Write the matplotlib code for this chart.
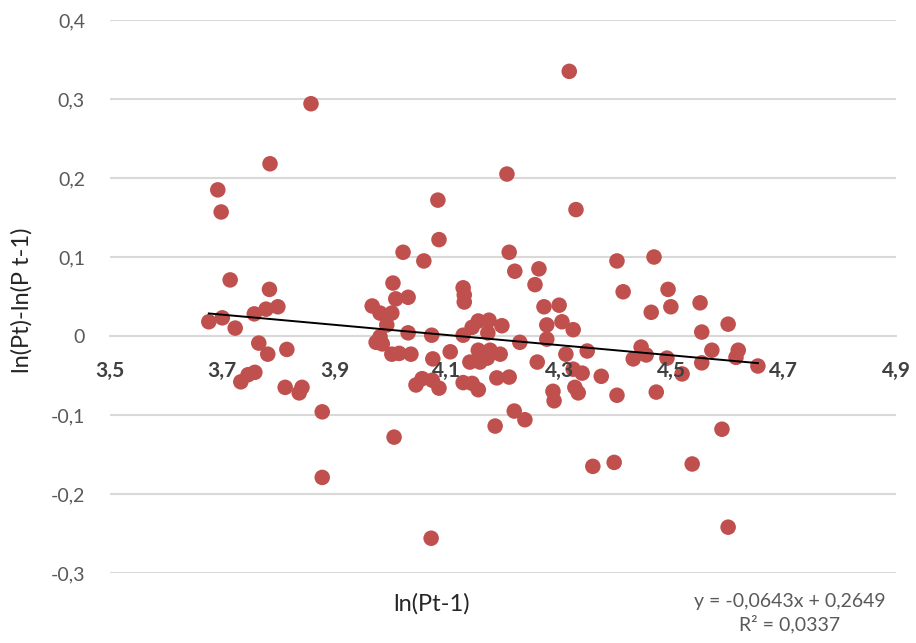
import matplotlib
matplotlib.use("Agg")
import matplotlib.pyplot as plt
import numpy as np
from matplotlib.ticker import FuncFormatter

plt.rcParams['font.family'] = ['Lato', 'DejaVu Sans']

x_vals = [3.676, 3.692, 3.698, 3.700, 3.714, 3.723, 3.733, 3.746, 3.758, 3.757,
          3.765, 3.781, 3.778, 3.784, 3.785, 3.799, 3.815, 3.812, 3.837, 3.842,
          3.858, 3.878, 3.878,
          3.967, 3.974, 3.981, 3.981, 3.985, 3.993, 4.002, 4.002, 4.004, 4.009,
          4.015, 4.006, 4.022, 4.031, 4.031, 4.036, 4.045, 4.056, 4.059, 4.073,
          4.074, 4.075, 4.072, 4.084, 4.086, 4.086, 4.106, 4.129, 4.131, 4.131,
          4.129, 4.129, 4.141, 4.145, 4.145, 4.156, 4.156, 4.156, 4.159, 4.172,
          4.173, 4.175, 4.177, 4.186, 4.189, 4.195, 4.198, 4.207, 4.211, 4.211,
          4.220, 4.221, 4.230, 4.239, 4.257, 4.261, 4.264, 4.273, 4.278, 4.278,
          4.289, 4.291, 4.300, 4.305, 4.312, 4.318, 4.325, 4.325, 4.328, 4.330,
          4.334, 4.341, 4.350, 4.360, 4.375, 4.398, 4.403, 4.403, 4.414, 4.432,
          4.446, 4.455, 4.464, 4.469, 4.473, 4.492, 4.494, 4.499, 4.519, 4.537,
          4.551, 4.554, 4.554, 4.572, 4.590, 4.601, 4.601, 4.615, 4.619, 4.654]
y_vals = [0.018, 0.185, 0.157, 0.023, 0.071, 0.010, -0.058, -0.049, -0.046, 0.028,
          -0.009, -0.023, 0.034, 0.059, 0.218, 0.037, -0.017, -0.065, -0.072, -0.065,
          0.294, -0.096, -0.179,
          0.038, -0.008, 0.029, -0.001, -0.010, 0.014, 0.029, -0.023, 0.067, 0.047,
          -0.022, -0.128, 0.106, 0.049, 0.004, -0.023, -0.062, -0.054, 0.095, 0.001,
          -0.056, -0.029, -0.256, 0.172, 0.122, -0.066, -0.020, 0.061, 0.052, 0.043,
          0.001, -0.059, -0.033, 0.011, -0.060, 0.019, -0.018, -0.068, -0.033, -0.028,
          0.004, 0.020, -0.018, -0.114, -0.053, -0.023, 0.013, 0.205, 0.106, -0.052,
          -0.095, 0.082, -0.008, -0.106, 0.065, -0.033, 0.085, 0.037, 0.014, -0.004,
          -0.070, -0.082, 0.039, 0.018, -0.023, 0.335, 0.008, -0.042, -0.065, 0.160,
          -0.072, -0.047, -0.019, -0.165, -0.051, -0.160, 0.095, -0.075, 0.056, -0.029,
          -0.014, -0.024, 0.030, 0.100, -0.071, -0.028, 0.059, 0.037, -0.048, -0.162,
          0.042, 0.005, -0.034, -0.018, -0.118, 0.015, -0.242, -0.027, -0.018, -0.038]

slope = -0.0643
intercept = 0.2649
r2 = 0.0337
x_ticks = [3.5, 3.7, 3.9, 4.1, 4.3, 4.5, 4.7, 4.9]
y_ticks = [-0.3, -0.2, -0.1, 0, 0.1, 0.2, 0.3, 0.4]
x_title = "ln(Pt-1)"
y_title = "ln(Pt)-ln(P t-1)"

fig = plt.figure(figsize=(9.16, 6.43), dpi=100)
ax = fig.add_axes([110/916, 1-573/643, (896-110)/916, (573-20)/643])

ax.scatter(x_vals, y_vals, s=125, color='#C0504D', edgecolors='none', zorder=3)

xl = np.array([min(x_vals), max(x_vals)])
ax.plot(xl, slope*xl + intercept, color='black', lw=1.4, zorder=4)

ax.set_xlim(3.5, 4.9)
ax.set_ylim(-0.3, 0.4)
ax.set_xticks(x_ticks)
ax.set_yticks(y_ticks)
fmt = FuncFormatter(lambda v, p: ('%g' % round(v, 2)).replace('.', ','))
ax.xaxis.set_major_formatter(fmt)
ax.yaxis.set_major_formatter(fmt)

ax.yaxis.grid(True, color='#D9D9D9', lw=1.5, zorder=0)
ax.set_axisbelow(True)
for s in ['top', 'right', 'left']:
    ax.spines[s].set_visible(False)
ax.spines['bottom'].set_position(('data', 0))
ax.spines['bottom'].set_color('#D9D9D9')
ax.spines['bottom'].set_linewidth(1.5)
ax.spines['bottom'].set_zorder(0.5)
ax.tick_params(axis='x', length=0, pad=18, labelsize=15, labelcolor='#404040')
ax.tick_params(axis='y', length=0, pad=18, labelsize=14, labelcolor='#595959')
for t in ax.get_xticklabels():
    t.set_fontweight('bold')
ax.xaxis.set_zorder(5)

fig.text(22/916, 1-300/643, y_title, rotation=90, ha='center', va='center',
         fontsize=17, color='#262626')
fig.text(432/916, 1-604/643, x_title, ha='center', va='center',
         fontsize=17, color='#262626')
eq = ("y = %.4fx + %.4f\nR² = %.4f" % (slope, intercept, r2)).replace('.', ',')
fig.text(790/916, 1-613/643, eq, ha='center', va='center', fontsize=14,
         color='#595959', linespacing=1.3, multialignment='center')

fig.savefig('out.png', dpi=100, facecolor='white')
